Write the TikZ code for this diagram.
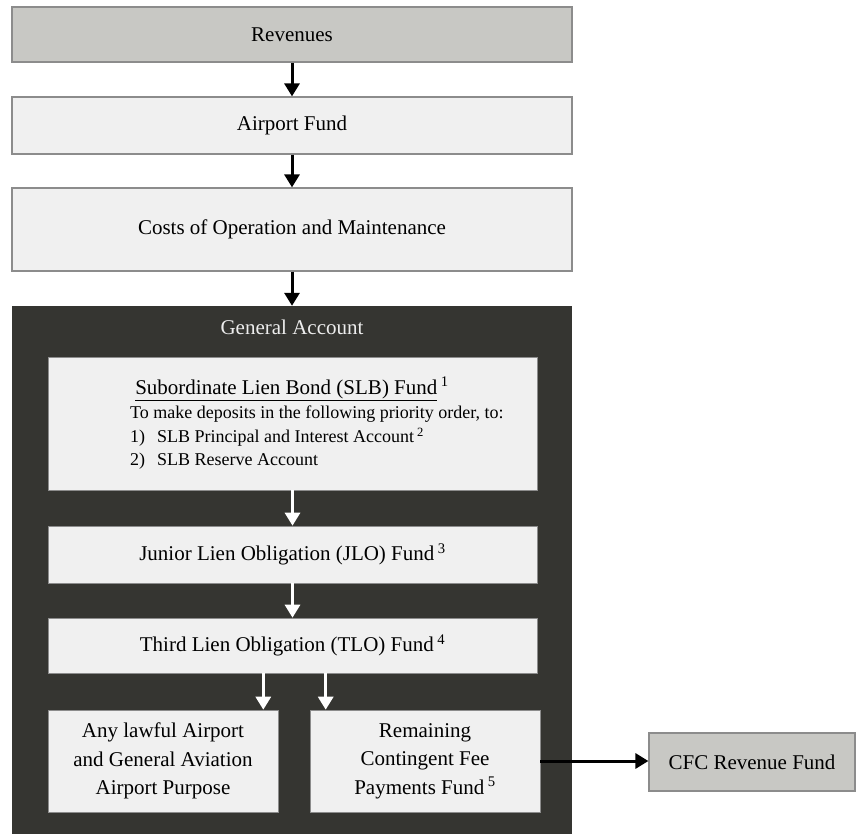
\documentclass[tikz,border=0pt]{standalone}
\usepackage{fontspec}
\setmainfont{Liberation Serif}
\usetikzlibrary{arrows.meta,calc,positioning}
\definecolor{revgray}{HTML}{C8C8C4}
\definecolor{boxfill}{HTML}{F0F0F0}
\definecolor{boxline}{HTML}{8C8C8C}
\definecolor{darkfill}{HTML}{353531}
\definecolor{titletext}{HTML}{EDEDED}
\tikzset{>={Triangle[length=13pt,width=15pt]}}
\tikzset{
  bigfont/.style={font=\fontsize{21}{28.5}\selectfont},
  graybox/.style={draw=boxline,line width=1.2pt,fill=revgray,inner sep=0pt,bigfont,align=center},
  lightbox/.style={draw=boxline,line width=1.2pt,fill=boxfill,inner sep=0pt,bigfont,align=center},
  innerbox/.style={draw=boxline,line width=0.6pt,fill=boxfill,inner sep=0pt,bigfont,align=center},
  flow/.style={->,line width=3pt,black},
  wflow/.style={->,line width=3pt,white}
}

\begin{document}
\begin{tikzpicture}[x=1pt,y=-1pt]
  \useasboundingbox (0,0) rectangle (856,834);

  % Upper boxes
  \node[graybox,minimum width=560,minimum height=55] (rev) at (292,34.5) {Revenues};
  \node[lightbox,minimum width=560,minimum height=57] (airport) at (292,125.5) {Airport Fund};
  \node[lightbox,minimum width=560,minimum height=83] (costs) at (292,229.5) {Costs of Operation and Maintenance};

  % General account
  \node[fill=darkfill,draw=none,minimum width=560,minimum height=528,inner sep=0pt] (general) at (292,570) {};
  \node[bigfont,text=titletext] (gtitle) at (292,327) {General Account};

  \node[innerbox,minimum width=489,minimum height=133] (slb) at (292.5,423.5) {};
  \node[bigfont] (slbhead) at (292,389) {\underline{Subordinate Lien Bond (SLB) Fund}\,\textsuperscript{1}};
  \node[font=\fontsize{18}{23.5}\selectfont,align=left,anchor=north west,inner sep=0pt] (slbnote) at (130,406)
    {To make deposits in the following priority order, to:\\
     1)\hspace{12pt}SLB Principal and Interest Account\,\textsuperscript{2}\\
     2)\hspace{12pt}SLB Reserve Account};

  \node[innerbox,minimum width=489,minimum height=57] (jlo) at (292.5,554.5) {Junior Lien Obligation (JLO) Fund\,\textsuperscript{3}};
  \node[innerbox,minimum width=489,minimum height=55] (tlo) at (292.5,645.5) {Third Lien Obligation (TLO) Fund\,\textsuperscript{4}};
  \node[innerbox,minimum width=230,minimum height=102] (lawful) at (163,761) {Any lawful Airport\\and General Aviation\\Airport Purpose};
  \node[innerbox,minimum width=230,minimum height=102] (remain) at (425,761) {Remaining\\Contingent Fee\\Payments Fund\,\textsuperscript{5}};

  \node[graybox,minimum width=206,minimum height=58] (cfc) at (752,762) {CFC Revenue Fund};

  % Arrows
  \draw[flow] (rev) -- (airport);
  \draw[flow] (airport) -- (costs);
  \draw[flow] (costs) -- (general);
  \draw[wflow] (slb) -- (jlo);
  \draw[wflow] (jlo) -- (tlo);
  \draw[wflow] ($(tlo.south -| lawful.east)+(-15,0)$) -- ($(lawful.north east)+(-15,0)$);
  \draw[wflow] ($(tlo.south -| remain.west)+(16,0)$) -- ($(remain.north west)+(16,0)$);
  \draw[flow] (remain.east) -- (remain.east -| cfc.west);
\end{tikzpicture}
\end{document}
